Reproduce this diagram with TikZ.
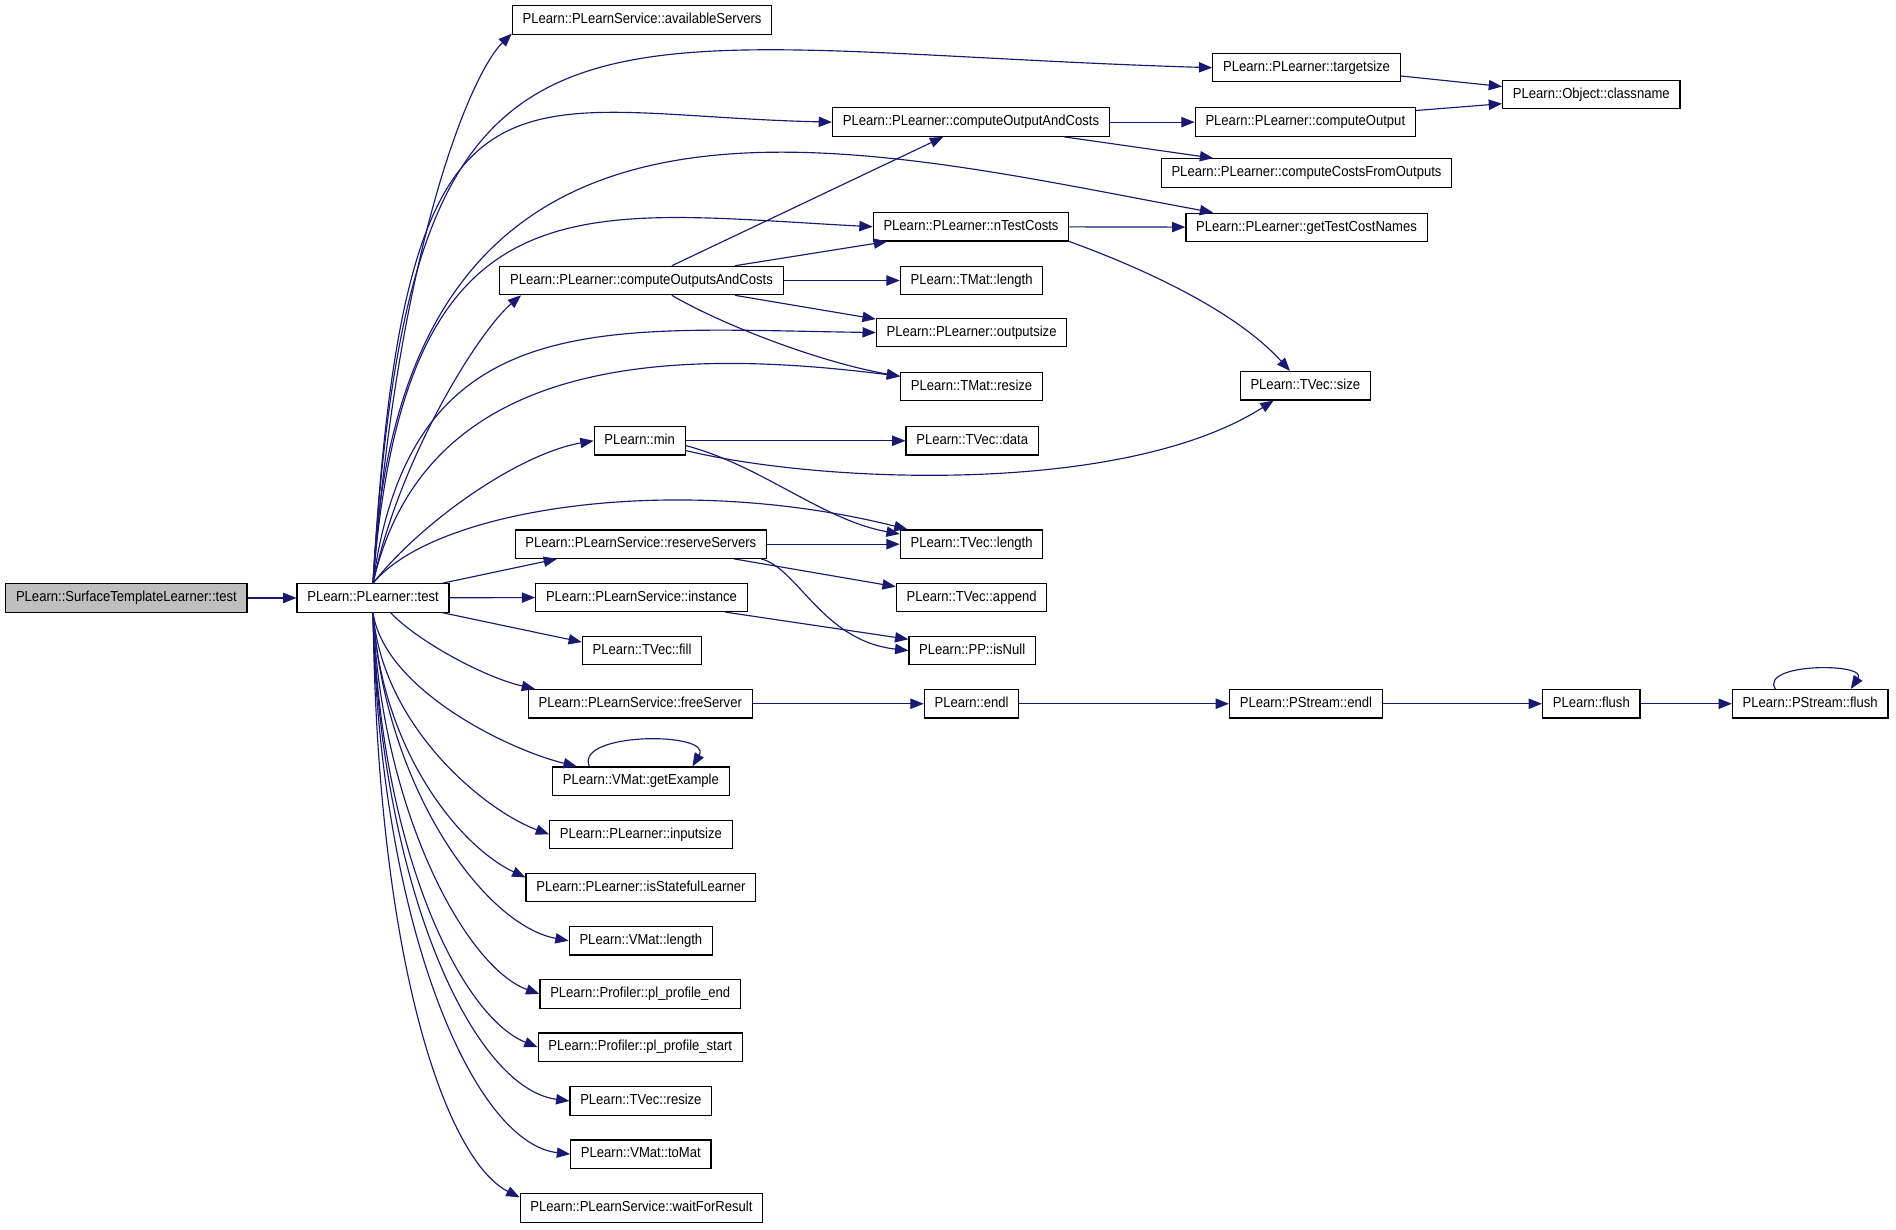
\documentclass[tikz,border=0pt]{standalone}
\usepackage{fontspec}
\setmainfont{Liberation Sans}[FakeStretch=0.9]
\usetikzlibrary{arrows.meta}

\definecolor{edgecol}{HTML}{191970}
\definecolor{rootfill}{HTML}{BFBFBF}

\begin{document}
\begin{tikzpicture}[x=1pt, y=-1pt, line width=0.95pt,
    fn/.style={draw=black, rectangle, inner xsep=8.5pt, inner ysep=0pt,
        minimum height=23.5pt, text height=8.6pt, text depth=2.5pt,
        font=\fontsize{12}{14}\selectfont},
    calls/.style={draw=edgecol, -{Triangle[length=11pt, width=8.5pt]}}]

    % --- Frame ---
    \useasboundingbox (0,0) rectangle (1568,1016.4);

    % --- Nodes ---
    % column 0 and 1
    \node[fn, fill=rootfill] (surf) at (104.5,494.5) {PLearn::SurfaceTemplateLearner::test};
    \node[fn] (test) at (308.5,494.5) {PLearn::PLearner::test};

    % column 2 (all centred at x = 530)
    \node[fn] (avail)     at (531,16.5)  {PLearn::PLearnService::availableServers};
    \node[fn] (outscost)  at (530.5,232) {PLearn::PLearner::computeOutputsAndCosts};
    \node[fn] (pmin)      at (529,364.5) {PLearn::min};
    \node[fn] (reserve)   at (530,450)   {PLearn::PLearnService::reserveServers};
    \node[fn] (instance)  at (530.5,494) {PLearn::PLearnService::instance};
    \node[fn] (tvfill)    at (531,538)   {PLearn::TVec::fill};
    \node[fn] (free)      at (529.5,582) {PLearn::PLearnService::freeServer};
    \node[fn] (getex)     at (530,646)   {PLearn::VMat::getExample};
    \node[fn] (insize)    at (530,690)   {PLearn::PLearner::inputsize};
    \node[fn] (stateful)  at (530,734)   {PLearn::PLearner::isStatefulLearner};
    \node[fn] (vmlen)     at (530,778)   {PLearn::VMat::length};
    \node[fn] (profend)   at (529.5,822) {PLearn::Profiler::pl\_profile\_end};
    \node[fn] (profstart) at (529.5,866) {PLearn::Profiler::pl\_profile\_start};
    \node[fn] (tvresize)  at (530,910.5) {PLearn::TVec::resize};
    \node[fn] (tomat)     at (530,954.5) {PLearn::VMat::toMat};
    \node[fn] (wait)      at (530.5,999) {PLearn::PLearnService::waitForResult};

    % column 3 (x = 803.5)
    \node[fn] (outcost)  at (803,101)     {PLearn::PLearner::computeOutputAndCosts};
    \node[fn] (ntest)    at (803,187.5)   {PLearn::PLearner::nTestCosts};
    \node[fn] (tmlen)    at (803.5,232)   {PLearn::TMat::length};
    \node[fn] (outsize)  at (803.5,275)   {PLearn::PLearner::outputsize};
    \node[fn] (tmresize) at (803.5,319.5) {PLearn::TMat::resize};
    \node[fn] (tvdata)   at (804,364.5)   {PLearn::TVec::data};
    \node[fn] (tvlen)    at (803.5,450)   {PLearn::TVec::length};
    \node[fn] (append)   at (803.5,494)   {PLearn::TVec::append};
    \node[fn] (isnull)   at (804,538)     {PLearn::PP::isNull};
    \node[fn] (endl)     at (803.5,582)   {PLearn::endl};

    % column 4, 5 and 6
    \node[fn] (target)    at (1080.5,56)  {PLearn::PLearner::targetsize};
    \node[fn] (compout)   at (1079.5,101) {PLearn::PLearner::computeOutput};
    \node[fn] (costsfrom) at (1080.5,143) {PLearn::PLearner::computeCostsFromOutputs};
    \node[fn] (gettest)   at (1080.5,188) {PLearn::PLearner::getTestCostNames};
    \node[fn] (tvsize)    at (1079.5,319) {PLearn::TVec::size};
    \node[fn] (psendl)    at (1080,582)   {PLearn::PStream::endl};
    \node[fn] (classname) at (1316,78)    {PLearn::Object::classname};
    \node[fn] (flush)     at (1316,582)   {PLearn::flush};
    \node[fn] (psflush)   at (1497,582)   {PLearn::PStream::flush};

    % --- Calls from test (upwards) ---
    \draw[calls] (surf) -- (test);
    \draw[calls] (test.north) .. controls (330,200) and (390,60) .. (avail.186);
    \draw[calls] (test.north) .. controls (340,-45) and (475,40) .. (target.west);
    \draw[calls] (test.north) .. controls (335,20) and (420,95) .. (outcost.west);
    \draw[calls] (test.north) .. controls (330,20) and (700,120) .. (gettest.171);
    \draw[calls] (test.north) .. controls (335,140) and (480,175) .. (ntest.west);
    \draw[calls] (test.north) .. controls (330,380) and (395,275) .. (outscost.187);
    \draw[calls] (test.north) .. controls (340,250) and (500,272) .. (outsize.west);
    \draw[calls] (test.north) .. controls (350,300) and (540,285) .. (tmresize.172);
    \draw[calls] (test.north) .. controls (350,430) and (430,375) .. (pmin.west);
    \draw[calls] (test.north) .. controls (360,420) and (560,390) .. (tvlen.167);
    \draw[calls] (test.12) -- (reserve.190);
    \draw[calls] (test) -- (instance);

    % --- Calls from test (downwards) ---
    \draw[calls] (test.-12) -- (tvfill.172);
    \draw[calls] (test.-40) .. controls (345,530) and (400,560) .. (free.172);
    \draw[calls] (test.south) .. controls (318,570) and (420,620) .. (getex.167);
    \draw[calls] (test.south) .. controls (316,600) and (400,670) .. (insize.west);
    \draw[calls] (test.south) .. controls (315,620) and (380,700) .. (stateful.175);
    \draw[calls] (test.south) .. controls (318,650) and (400,765) .. (vmlen.west);
    \draw[calls] (test.south) .. controls (315,670) and (385,800) .. (profend.west);
    \draw[calls] (test.south) .. controls (314,700) and (380,840) .. (profstart.west);
    \draw[calls] (test.south) .. controls (314,730) and (390,900) .. (tvresize.west);
    \draw[calls] (test.south) .. controls (313,760) and (390,945) .. (tomat.west);
    \draw[calls] (test.south) .. controls (312,800) and (370,960) .. (wait.175);

    % --- Further calls ---
    \draw[calls] (outscost.26) -- (outcost.208);
    \draw[calls] (outscost.9) -- (ntest.190);
    \draw[calls] (outscost) -- (tmlen);
    \draw[calls] (outscost.-9) -- (outsize.172);
    \draw[calls] (outscost.-26) .. controls (600,270) and (680,300) .. (tmresize.172);
    \draw[calls] (outcost) -- (compout);
    \draw[calls] (outcost.-9) -- (costsfrom.171);
    \draw[calls] (compout.6) -- (classname.186);
    \draw[calls] (target.-5) -- (classname.175);
    \draw[calls] (ntest) -- (gettest);
    \draw[calls] (ntest.south east) .. controls (940,220) and (1020,255) .. (tvsize.136);
    \draw[calls] (pmin) -- (tvdata);
    \draw[calls] (pmin.-12) .. controls (680,400) and (930,410) .. (tvsize.205);
    \draw[calls] (pmin.-6) .. controls (630,385) and (680,430) .. (tvlen.172);
    \draw[calls] (reserve) -- (tvlen);
    \draw[calls] (reserve.-9) -- (append.172);
    \draw[calls] (reserve.-7) .. controls (660,470) and (680,530) .. (isnull.west);
    \draw[calls] (instance.-10) -- (isnull.170);
    \draw[calls] (free) -- (endl);
    \draw[calls] (endl) -- (psendl);
    \draw[calls] (psendl) -- (flush);
    \draw[calls] (flush) -- (psflush);

    % self calls
    \draw[calls] (getex.164) .. controls (475,605) and (590,605) .. (getex.16);
    \draw[calls] (psflush.157) .. controls (1455,548) and (1545,548) .. (psflush.20);

\end{tikzpicture}
\end{document}
